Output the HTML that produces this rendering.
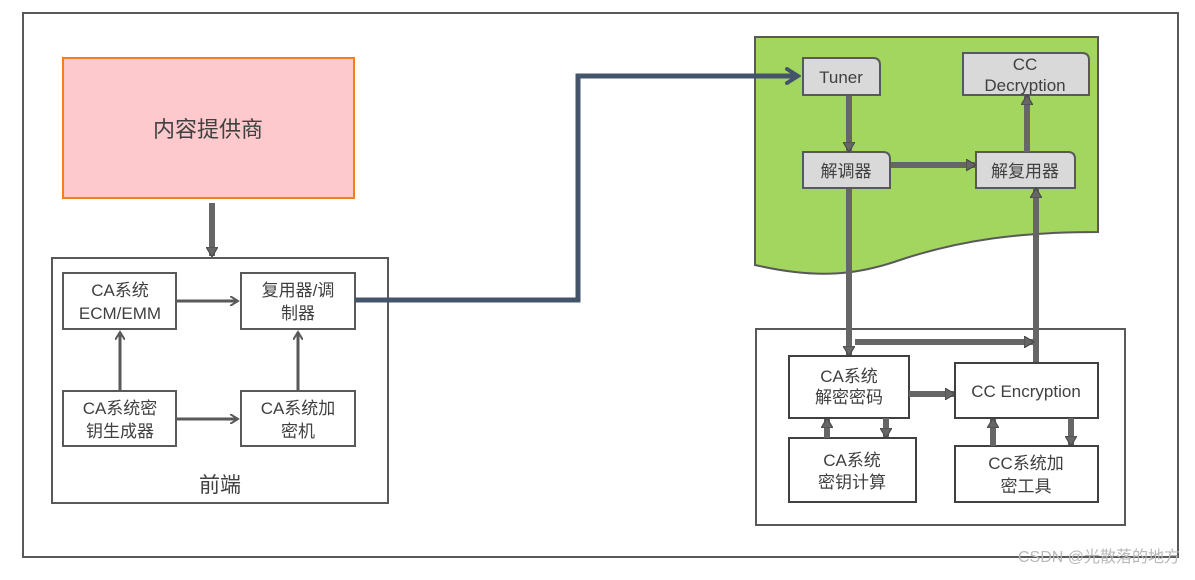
<!DOCTYPE html>
<html><head><meta charset="utf-8"><style>
body{margin:0;background:#fff}
text{font-family:"Liberation Sans","Noto Sans CJK SC",sans-serif;fill:#404040;text-anchor:middle}
</style></head><body>
<svg width="1195" height="575" xmlns="http://www.w3.org/2000/svg">
<defs>
<marker id="ah" markerWidth="10" markerHeight="10" refX="8" refY="5" orient="auto" markerUnits="userSpaceOnUse"><path d="M0,0 L8,5 L0,10" fill="none" stroke="#595959" stroke-width="2"/></marker>
<marker id="bh" markerWidth="16" markerHeight="18" refX="13" refY="9" orient="auto" markerUnits="userSpaceOnUse"><path d="M2,2 L13,9 L2,16" fill="none" stroke="#44546a" stroke-width="4" stroke-linecap="round"/></marker>
<marker id="th" markerWidth="12" markerHeight="12" refX="9" refY="6" orient="auto" markerUnits="userSpaceOnUse"><path d="M0,0 L10,6 L0,12 Z" fill="#666" stroke="#444" stroke-width="1"/></marker>
</defs>
<rect x="23" y="13" width="1155" height="544" fill="#fff" stroke="#595959" stroke-width="2"/>
<rect x="63" y="58" width="291" height="140" fill="#fdc9cc" stroke="#f47f20" stroke-width="2"/>
<text x="208" y="137" font-size="22">内容提供商</text>
<line x1="212" y1="203" x2="212" y2="256" stroke="#666" stroke-width="6" marker-end="url(#th)"/>
<rect x="52" y="258" width="336" height="245" fill="#fff" stroke="#595959" stroke-width="2"/>
<g fill="#fff" stroke="#595959" stroke-width="2">
<rect x="63" y="273" width="113" height="56"/><rect x="241" y="273" width="114" height="56"/>
<rect x="63" y="391" width="113" height="55"/><rect x="241" y="391" width="114" height="55"/>
</g>
<g font-size="17">
<text x="120" y="296">CA系统</text><text x="120" y="319">ECM/EMM</text>
<text x="298" y="296">复用器/调</text><text x="298" y="319">制器</text>
<text x="120" y="414">CA系统密</text><text x="120" y="437">钥生成器</text>
<text x="298" y="414">CA系统加</text><text x="298" y="437">密机</text>
</g>
<text x="220" y="492" font-size="21">前端</text>
<g stroke="#595959" stroke-width="3" marker-end="url(#ah)">
<line x1="176" y1="301" x2="238" y2="301"/><line x1="176" y1="419" x2="238" y2="419"/>
<line x1="120" y1="391" x2="120" y2="332"/><line x1="298" y1="391" x2="298" y2="332"/>
</g>
<path d="M755,37 L1098,37 L1098,232 C1020,232 960,240 900,260 C860,274 820,280 755,265 Z" fill="#a3d65f" stroke="#595959" stroke-width="2"/>
<path d="M355,300 L578,300 L578,76 L798,76" fill="none" stroke="#44546a" stroke-width="5" marker-end="url(#bh)"/>
<g fill="#d9d9d9" stroke="#595959" stroke-width="2">
<path d="M803,58 L873,58 Q880,58 880,65 L880,95 L803,95 Z"/>
<path d="M963,53 L1082,53 Q1089,53 1089,60 L1089,95 L963,95 Z"/>
<path d="M803,152 L883,152 Q890,152 890,159 L890,188 L803,188 Z"/>
<path d="M976,152 L1068,152 Q1075,152 1075,159 L1075,188 L976,188 Z"/>
</g>
<g font-size="17">
<text x="841" y="83">Tuner</text>
<text x="1025" y="70">CC</text><text x="1025" y="91">Decryption</text>
<text x="846" y="177">解调器</text><text x="1025" y="177">解复用器</text>
</g>
<rect x="756" y="329" width="369" height="196" fill="none" stroke="#595959" stroke-width="2"/>
<g fill="#fff" stroke="#404040" stroke-width="2">
<rect x="789" y="356" width="120" height="62"/><rect x="955" y="363" width="143" height="55"/>
<rect x="789" y="438" width="127" height="64"/><rect x="955" y="446" width="143" height="56"/>
</g>
<g font-size="17">
<text x="849" y="382">CA系统</text><text x="849" y="403">解密密码</text>
<text x="1026" y="397">CC Encryption</text>
<text x="852" y="466">CA系统</text><text x="852" y="488">密钥计算</text>
<text x="1026" y="469">CC系统加</text><text x="1026" y="492">密工具</text>
</g>
<g stroke="#666" stroke-width="6" marker-end="url(#th)">
<line x1="849" y1="96" x2="849" y2="151"/>
<line x1="891" y1="165" x2="975" y2="165"/>
<line x1="1027" y1="152" x2="1027" y2="96"/>
<line x1="849" y1="189" x2="849" y2="355"/>
<line x1="1036" y1="362" x2="1036" y2="189"/>
<line x1="855" y1="342" x2="1033" y2="342"/>
<line x1="909" y1="394" x2="954" y2="394"/>
<line x1="827" y1="438" x2="827" y2="419"/>
<line x1="886" y1="418" x2="886" y2="437"/>
<line x1="993" y1="446" x2="993" y2="419"/>
<line x1="1071" y1="418" x2="1071" y2="445"/>
</g>
<text x="1180" y="562" font-size="16" style="fill:#b8b8b8;text-anchor:end">CSDN @光散落的地方</text>
</svg>
</body></html>
